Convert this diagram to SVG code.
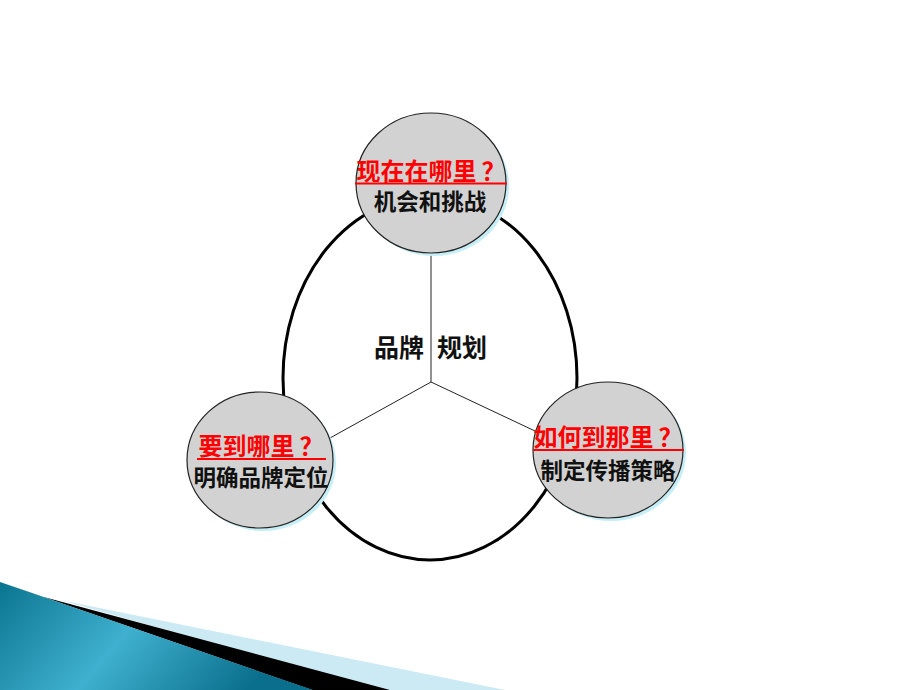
<svg xmlns="http://www.w3.org/2000/svg" width="920" height="690" viewBox="0 0 920 690">
<defs>
<style>
.node{fill:#d2d2d2;stroke:#222;stroke-width:1.2}
.shadow{fill:#c6eef6}
.red{font-family:"Noto Sans CJK SC","Liberation Sans",sans-serif;font-weight:bold;fill:#ff0000;font-size:24px;text-anchor:middle}
.blk{font-family:"Noto Sans CJK SC","Liberation Sans",sans-serif;font-weight:bold;fill:#111;font-size:22.5px;text-anchor:middle}
.ul{stroke:#ff0000;stroke-width:2}
.conn{stroke:#222;stroke-width:1;fill:none}
</style>
<linearGradient id="blue" x1="0" y1="0" x2="1" y2="0.3">
<stop offset="0" stop-color="#0b7590"/>
<stop offset="0.5" stop-color="#3fb0cf"/>
<stop offset="1" stop-color="#0a6f8c"/>
</linearGradient>
</defs>
<rect width="920" height="690" fill="#ffffff"/>
<g id="decoration">
<polygon points="60,600 505,690 380,690" fill="#cbeaf3"/>
<polygon points="40,596 390,690 312,690 0,582" fill="#000000"/>
<polygon points="0,582 313,690 0,690" fill="url(#blue)"/>
</g>
<g id="connectors">
<ellipse cx="430" cy="378" rx="147" ry="182" fill="none" stroke="#000" stroke-width="3"/>
<line class="conn" x1="431" y1="250" x2="431" y2="382"/>
<line class="conn" x1="431" y1="382" x2="330" y2="438"/>
<line class="conn" x1="431" y1="382" x2="535" y2="431"/>
</g>
<g id="center">
<text class="blk" x="399" y="357" style="font-size:25px">品牌</text>
<text class="blk" x="462" y="357" style="font-size:25px">规划</text>
</g>
<g id="node-top">
<ellipse class="shadow" cx="434" cy="186" rx="75" ry="70"/>
<ellipse class="node" cx="431" cy="183" rx="75" ry="70"/>
<text class="red" x="431" y="180">现在在哪里<tspan dx="5">？</tspan></text>
<line class="ul" x1="355" y1="183.5" x2="507" y2="183.5"/>
<text class="blk" x="430" y="210">机会和挑战</text>
</g>
<g id="node-left">
<ellipse class="shadow" cx="263" cy="463" rx="73" ry="68"/>
<ellipse class="node" cx="260" cy="460" rx="73" ry="68"/>
<text class="red" x="261" y="455">要到哪里<tspan dx="5">？</tspan></text>
<line class="ul" x1="197" y1="459" x2="326" y2="459"/>
<text class="blk" x="261" y="486">明确品牌定位</text>
</g>
<g id="node-right">
<ellipse class="shadow" cx="611" cy="453" rx="75" ry="68"/>
<ellipse class="node" cx="608" cy="450" rx="75" ry="68"/>
<text class="red" x="608" y="446">如何到那里<tspan dx="5">？</tspan></text>
<line class="ul" x1="533" y1="450" x2="684" y2="450"/>
<text class="blk" x="608" y="479">制定传播策略</text>
</g>
</svg>
